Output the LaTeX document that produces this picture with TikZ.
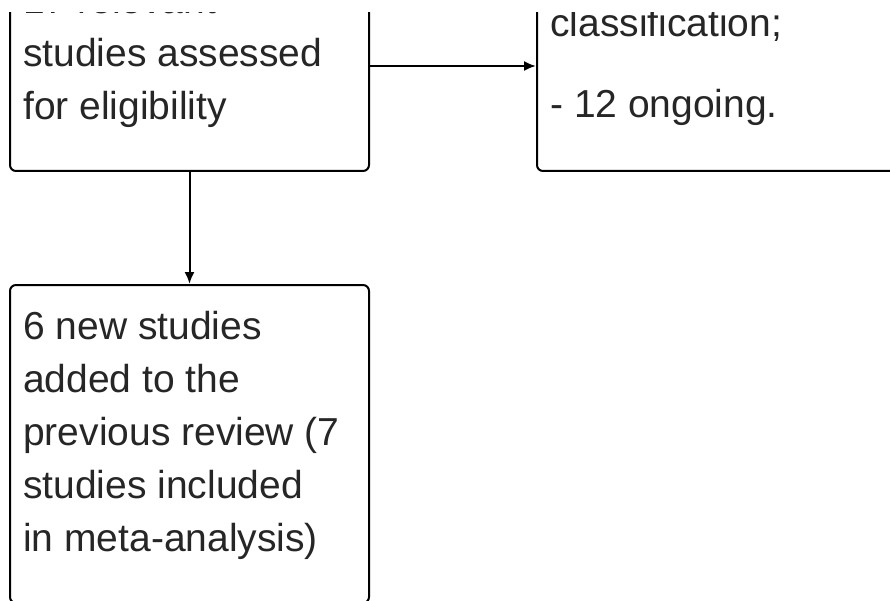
\documentclass[tikz,border=0pt]{standalone}
\usepackage{fontspec}
\setmainfont{Liberation Sans}
\usetikzlibrary{arrows.meta}

\begin{document}
\begin{tikzpicture}[x=1pt, y=-1pt, >={Latex[length=12pt,width=10pt]},
	box/.style={draw, line width=2pt, rounded corners=6pt, minimum width=359pt},
	txt/.style={anchor=base west, inner sep=0pt, align=left, font=\fontsize{39}{53}\selectfont, color=black!85}]
	\useasboundingbox (0, 0) rectangle (890, 601);
	\clip (0, 13) rectangle (890, 601);

	\node[box, minimum height=210pt] (screen) at (189.5, 66) {};
	\node[box, minimum height=210pt, minimum width=423pt] (excluded) at (748.5, 66) {};
	\node[box, minimum height=318pt] (included) at (189.5, 444) {};

	\node[txt] (screentext) at (23, 120) {17 relevant\\studies assessed\\for eligibility};
	\node[txt] (excludedtext) at (550, 118) {classification;\\[28pt]- 12 ongoing.};
	\node[txt] (includedtext) at (23, 551) {6 new studies\\added to the\\previous review (7\\studies included\\in meta-analysis)};

	\draw[line width=2pt, ->] (screen.east) -- (excluded.west);
	\draw[line width=2pt, ->] (screen.south) -- (included.north);
\end{tikzpicture}
\end{document}
